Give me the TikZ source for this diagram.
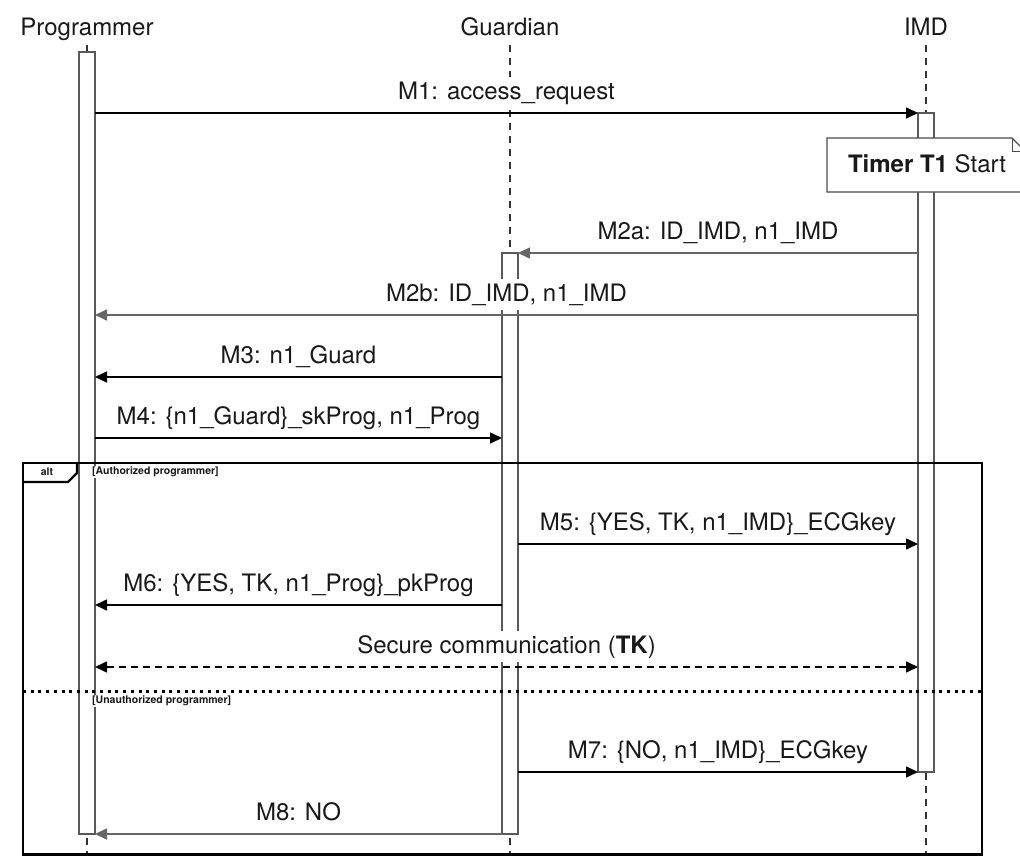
\documentclass[tikz,border=0pt]{standalone}
\usepackage{fontspec}
\setmainfont{TeX Gyre Heros}
\usetikzlibrary{arrows.meta}

\begin{document}
\begin{tikzpicture}[x=1pt,y=-1pt,
  every node/.style={font=\fontsize{24}{28}\selectfont, text=black!90},
  head/.style={anchor=base, inner sep=0pt},
  life/.style={draw=black!80, line width=1.3pt, dash pattern=on 7pt off 6pt},
  actbar/.style={draw=black!65, fill=white, line width=1.3pt, minimum width=16pt, inner sep=0pt, outer sep=0pt},
  msg/.style={draw=black, line width=1.6pt, -{Triangle[length=12pt,width=11pt]}},
  faint/.style={draw=black!60},
  lbl/.style={above=4pt, fill=white, inner sep=3pt, text height=19pt, text depth=6pt},
  cond/.style={font=\fontsize{10.5}{12}\selectfont\bfseries, fill=white, inner sep=1pt, anchor=west},
  framestyle/.style={draw=black, line width=2.8pt},
]
\useasboundingbox (0,0) rectangle (1020,856);

% participants
\node[head] (hp) at (87,36) {Programmer};
\node[head] (hg) at (510,36) {Guardian};
\node[head] (hi) at (926,36) {IMD};

% lifelines
\coordinate (tl) at (0,45);
\coordinate (bl) at (0,860);
\draw[life] (hp.center |- tl) -- (hp.center |- bl);
\draw[life] (hg.center |- tl) -- (hg.center |- bl);
\draw[life] (hi.center |- tl) -- (hi.center |- bl);

% activation bars
\node[actbar, minimum height=782pt] (pbar) at (87,443) {};
\node[actbar, minimum height=581pt] (gbar) at (510,543.5) {};
\node[actbar, minimum height=659pt] (ibar) at (926,442.5) {};

% alt fragment
\draw[framestyle] (23,463) rectangle (982,854.5);
\draw[line width=2.2pt] (23,482) -- (68,482) -- (77,473) -- (77,463);
\node[font=\fontsize{10.5}{12}\selectfont\bfseries, inner sep=0pt] (alt) at (47,472) {alt};
\draw[line width=3pt, dash pattern=on 3pt off 4.7pt] (23,691) -- (982,691);
\node[cond] (c1) at (91,472) {[Authorized programmer]};
\node[cond] (c2) at (91,701) {[Unauthorized programmer]};

% message rows
\coordinate (r1) at (0,113);
\coordinate (r2a) at (0,253);
\coordinate (r2b) at (0,315);
\coordinate (r3) at (0,377);
\coordinate (r4) at (0,438);
\coordinate (r5) at (0,544);
\coordinate (r6) at (0,605);
\coordinate (rs) at (0,667);
\coordinate (r7) at (0,772);
\coordinate (r8) at (0,834);

\draw[msg] (pbar.east |- r1) -- node[lbl] (l1) {M1: access\_request} (ibar.west |- r1);
\draw[msg, faint] (ibar.west |- r2a) -- node[lbl] (l2a) {M2a: ID\_IMD, n1\_IMD} (gbar.east |- r2a);
\draw[msg, faint] (ibar.west |- r2b) -- node[lbl] (l2b) {M2b: ID\_IMD, n1\_IMD} (pbar.east |- r2b);
\draw[msg] (gbar.west |- r3) -- node[lbl] (l3) {M3: n1\_Guard} (pbar.east |- r3);
\draw[msg] (pbar.east |- r4) -- node[lbl] (l4) {M4: \{n1\_Guard\}\_skProg, n1\_Prog} (gbar.west |- r4);
\draw[msg] (gbar.east |- r5) -- node[lbl] (l5) {M5: \{YES, TK, n1\_IMD\}\_ECGkey} (ibar.west |- r5);
\draw[msg] (gbar.west |- r6) -- node[lbl] (l6) {M6: \{YES, TK, n1\_Prog\}\_pkProg} (pbar.east |- r6);
\draw[msg, {Triangle[length=12pt,width=11pt]}-{Triangle[length=12pt,width=11pt]}, dash pattern=on 7pt off 5pt]
  (pbar.east |- rs) -- node[lbl] (ls) {Secure communication (\textbf{TK})} (ibar.west |- rs);
\draw[msg] (gbar.east |- r7) -- node[lbl] (l7) {M7: \{NO, n1\_IMD\}\_ECGkey} (ibar.west |- r7);
\draw[msg, faint] (gbar.west |- r8) -- node[lbl] (l8) {M8: NO} (pbar.east |- r8);

% timer note on the IMD lifeline
\begin{scope}
\clip (0,0) rectangle (1020,856);
\draw[draw=black!70, fill=white, line width=1.3pt]
  (827,138) -- (1012,138) -- (1026,152) -- (1026,192) -- (827,192) -- cycle;
\draw[black!70, line width=1pt] (1012,138) -- (1012,152) -- (1026,152);
\node[anchor=base, inner sep=0pt] (note) at (927,172) {\textbf{Timer T1} Start};
\end{scope}
\end{tikzpicture}
\end{document}
